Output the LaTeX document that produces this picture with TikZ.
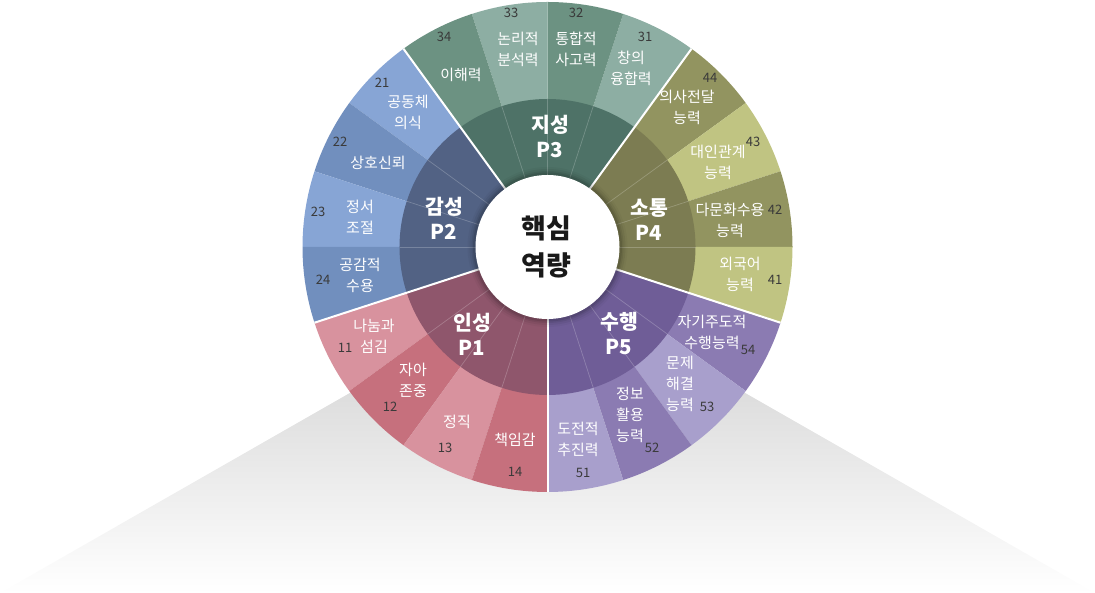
\documentclass[tikz,border=0pt]{standalone}
\usepackage{fontspec}
\setmainfont{Noto Sans CJK KR}
\definecolor{p3a}{HTML}{8DAEA3}\definecolor{p3b}{HTML}{6C9282}\definecolor{p3i}{HTML}{4E7267}
\definecolor{p4a}{HTML}{C0C482}\definecolor{p4b}{HTML}{929460}\definecolor{p4i}{HTML}{7C7C52}
\definecolor{p5a}{HTML}{A89FCC}\definecolor{p5b}{HTML}{8B7BB2}\definecolor{p5i}{HTML}{6F5D97}
\definecolor{p1a}{HTML}{D8929E}\definecolor{p1b}{HTML}{C6707D}\definecolor{p1i}{HTML}{8F566C}
\definecolor{p2a}{HTML}{87A5D5}\definecolor{p2b}{HTML}{718FBE}\definecolor{p2i}{HTML}{526284}
\definecolor{numc}{HTML}{3A3A3A}
\definecolor{shadetop}{RGB}{202,202,202}
\tikzset{
  lab/.style={text=white, font=\fontsize{15}{21}\selectfont, align=center, inner sep=0pt},
  num/.style={text=numc, font=\fontsize{13}{14}\selectfont, inner sep=0pt},
  inl/.style={text=white, font=\fontsize{20.5}{25}\selectfont\bfseries, align=center, inner sep=0pt},
  core/.style={text=black!90, font=\fontsize{27}{37}\selectfont\bfseries, align=center, inner sep=0pt},
  grpline/.style={white, line width=2pt},
  subline/.style={white, opacity=0.22, line width=0.7pt}
}
\newcommand{\sect}[4]{\fill[#4] (C) -- ++(#1:#3) arc[start angle=#1, end angle=#2, radius=#3] -- cycle;}
\begin{document}
\begin{tikzpicture}[x=1pt,y=1pt]
\useasboundingbox (0,0) rectangle (1095,593);
\coordinate (C) at (547.5,346);
% shadow
\shade[top color=shadetop, bottom color=white] (0,0) -- (547.5,313) -- (1095,0) -- cycle;
% outer ring
\foreach \a/\b/\c in {54/72/p3a,72/90/p3b,90/108/p3a,108/126/p3b,
  36/54/p4b,18/36/p4a,0/18/p4b,-18/0/p4a,
  -36/-18/p5b,-54/-36/p5a,-72/-54/p5b,-90/-72/p5a,
  198/216/p1a,216/234/p1b,234/252/p1a,252/270/p1b,
  126/144/p2a,144/162/p2b,162/180/p2a,180/198/p2b}
  {\sect{\a}{\b}{245pt}{\c}}
% inner ring
\foreach \a/\b/\c in {54/126/p3i,-18/54/p4i,-90/-18/p5i,198/270/p1i,126/198/p2i}
  {\sect{\a}{\b}{148pt}{\c}}
% sub lines in inner ring
\foreach \a in {72,90,108,36,18,0,-36,-54,-72,216,234,252,144,162,180}
  {\draw[subline] (C) ++(\a:72pt) -- ++(\a:76pt);}
% group lines
\foreach \a in {54,126,198,270,342}
  {\draw[grpline] (C) -- ++(\a:245pt);}
% centre circle with soft shadow
\foreach \r/\o in {80/0.03,78/0.05,76/0.07,74.5/0.09}
  {\fill[black, opacity=\o] (C) circle[radius=\r pt];}
\fill[white] (C) circle[radius=72pt];
\node[core] (core) at (546,346.5) {핵심\\역량};
% inner labels
\node[inl] (P3) at (550,456) {지성\\P3};
\node[inl] (P4) at (649,373) {소통\\P4};
\node[inl] (P5) at (619,259) {수행\\P5};
\node[inl] (P1) at (472,259) {인성\\P1};
\node[inl] (P2) at (444,375) {감성\\P2};
% P3
\node[num] (n34) at (444,556) {34}; \node[lab] (l34) at (461,518) {이해력};
\node[num] (n33) at (511,580) {33}; \node[lab] (l33) at (518,544) {논리적\\분석력};
\node[num] (n32) at (576,580) {32}; \node[lab] (l32) at (576,544) {통합적\\사고력};
\node[num] (n31) at (645,556) {31}; \node[lab] (l31) at (631,525) {창의\\융합력};
% P4
\node[num] (n44) at (710,515) {44}; \node[lab] (l44) at (687,486) {의사전달\\능력};
\node[num] (n43) at (753,451) {43}; \node[lab] (l43) at (718,431) {대인관계\\능력};
\node[num] (n42) at (775,383) {42}; \node[lab] (l42) at (730,373) {다문화수용\\능력};
\node[num] (n41) at (775,313) {41}; \node[lab] (l41) at (740,319) {외국어\\능력};
% P5
\node[num] (n54) at (748,243) {54}; \node[lab] (l54) at (712,261) {자기주도적\\수행능력};
\node[num] (n53) at (707,186) {53}; \node[lab] (l53) at (680,209) {문제\\해결\\능력};
\node[num] (n52) at (652,145) {52}; \node[lab] (l52) at (630,178.5) {정보\\활용\\능력};
\node[num] (n51) at (583,120) {51}; \node[lab] (l51) at (578,154) {도전적\\추진력};
% P1
\node[num] (n11) at (345,245) {11}; \node[lab] (l11) at (374,257) {나눔과\\섬김};
\node[num] (n12) at (390,186) {12}; \node[lab] (l12) at (413,213) {자아\\존중};
\node[num] (n13) at (445,145) {13}; \node[lab] (l13) at (457,171) {정직};
\node[num] (n14) at (515,121) {14}; \node[lab] (l14) at (515,153) {책임감};
% P2
\node[num] (n21) at (382,510) {21}; \node[lab] (l21) at (408,481) {공동체\\의식};
\node[num] (n22) at (340,451) {22}; \node[lab] (l22) at (378,430) {상호신뢰};
\node[num] (n23) at (318,381) {23}; \node[lab] (l23) at (360,375.5) {정서\\조절};
\node[num] (n24) at (323,313) {24}; \node[lab] (l24) at (360,318) {공감적\\수용};
\end{tikzpicture}
\end{document}
